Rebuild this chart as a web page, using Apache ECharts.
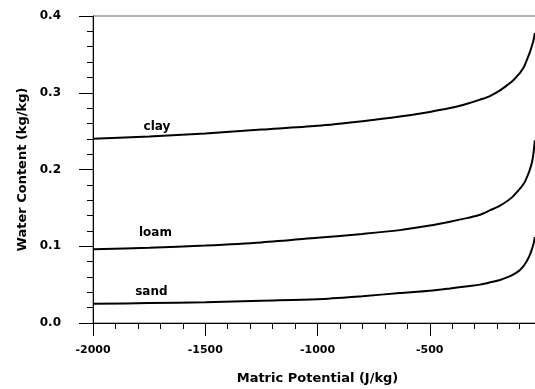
<!DOCTYPE html>
<html>
<head>
<meta charset="utf-8">
<script src="https://cdn.jsdelivr.net/npm/echarts@6/dist/echarts.min.js"></script>
<style>
  html, body { margin: 0; padding: 0; background: #fff; }
  #chart { width: 535px; height: 389px; }
</style>
</head>
<body>
<div id="chart"></div>
<script>
const potential = [-2000, -1750, -1500, -1250, -1000, -800, -633, -500, -410, -330, -276, -230, -187, -150, -129, -107, -98, -80, -67, -55, -44, -38, -32]
const clay = [0.240, 0.243, 0.247, 0.252, 0.257, 0.263, 0.269, 0.275, 0.280, 0.286, 0.291, 0.296, 0.303, 0.311, 0.316, 0.323, 0.326, 0.334, 0.343, 0.352, 0.362, 0.368, 0.378]
const loam = [0.096, 0.098, 0.101, 0.105, 0.111, 0.116, 0.121, 0.127, 0.132, 0.137, 0.141, 0.147, 0.153, 0.160, 0.165, 0.172, 0.175, 0.182, 0.190, 0.199, 0.210, 0.221, 0.238]
const sand = [0.025, 0.026, 0.027, 0.029, 0.031, 0.035, 0.039, 0.042, 0.045, 0.048, 0.050, 0.053, 0.056, 0.060, 0.063, 0.067, 0.069, 0.075, 0.081, 0.088, 0.097, 0.103, 0.112]
const xTicks = [-2000, -1500, -1000, -500]
const yTicks = [0.0, 0.1, 0.2, 0.3, 0.4]

const font = "DejaVu Sans"

const chart = echarts.init(document.getElementById("chart"), null, { renderer: "canvas" })

const pairs = (ys) => potential.map((x, i) => [x, ys[i]])

const curve = (name, ys, labelAt) => ({
  name: name,
  type: "line",
  data: pairs(ys),
  showSymbol: false,
  smooth: 0.3,
  lineStyle: { color: "#000", width: 2 },
  markPoint: {
    symbol: "circle",
    symbolSize: 0,
    data: [{ coord: labelAt }],
    label: {
      show: true,
      formatter: name,
      color: "#000",
      fontFamily: font,
      fontWeight: "bold",
      fontSize: 12
    }
  }
})

chart.setOption({
  animation: false,
  grid: {
    left: 93,
    top: 16,
    width: 449,
    height: 307,
    outerBoundsMode: "none",
    containLabel: false,
    show: true,
    borderColor: "#666",
    borderWidth: 1
  },
  xAxis: {
    type: "value",
    min: -2000,
    max: 0,
    interval: 500,
    name: "Matric Potential (J/kg)",
    nameLocation: "middle",
    nameGap: 49,
    nameTextStyle: { color: "#000", fontFamily: font, fontWeight: "bold", fontSize: 13 },
    axisLine: { onZero: false, lineStyle: { color: "#000", width: 1 } },
    axisTick: { show: true, length: 13, lineStyle: { color: "#000" } },
    minorTick: { show: true, splitNumber: 5, length: 6, lineStyle: { color: "#000" } },
    splitLine: { show: false },
    axisLabel: {
      margin: 22,
      color: "#000",
      fontFamily: font,
      fontWeight: "bold",
      fontSize: 11,
      formatter: (v) => (xTicks.includes(v) ? String(v) : "")
    }
  },
  yAxis: {
    type: "value",
    min: 0,
    max: 0.4,
    interval: 0.1,
    name: "Water Content (kg/kg)",
    nameLocation: "middle",
    nameGap: 63,
    nameTextStyle: { color: "#000", fontFamily: font, fontWeight: "bold", fontSize: 13 },
    axisLine: { show: true, onZero: false, lineStyle: { color: "#000", width: 1 } },
    axisTick: { show: true, length: 14, lineStyle: { color: "#000" } },
    minorTick: { show: true, splitNumber: 5, length: 6, lineStyle: { color: "#000" } },
    splitLine: { show: false },
    axisLabel: {
      margin: 32,
      color: "#000",
      fontFamily: font,
      fontWeight: "bold",
      fontSize: 12,
      formatter: (v) => {
        const t = yTicks.find((y) => Math.abs(y - v) < 1e-9)
        return t === undefined ? "" : t.toFixed(1)
      }
    }
  },
  series: [
    curve("clay", clay, [-1715, 0.256]),
    curve("loam", loam, [-1722, 0.118]),
    curve("sand", sand, [-1740, 0.041])
  ]
})
</script>
</body>
</html>
